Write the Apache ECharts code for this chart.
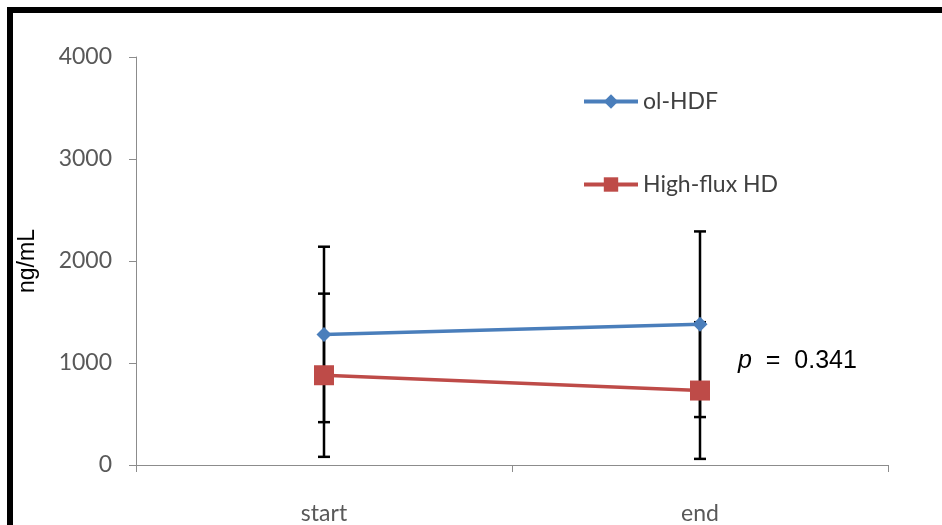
<!DOCTYPE html>
<html>
<head>
<meta charset="utf-8">
<script src="https://cdn.jsdelivr.net/npm/echarts@6/dist/echarts.min.js"></script>
<style>
  html, body { margin: 0; padding: 0; background: #fff; }
  #chart { width: 942px; height: 525px; }
</style>
</head>
<body>
<div id="chart"></div>
<script>
var categories = ["start", "end"];
var hdfMean = [1280, 1380];
var hdfSd = [860, 910];
var hfMean = [880, 730];
var hfSd = [800, 670];

var blue = "#4a7ebb";
var red = "#be4b48";

function errorData(mean, sd) {
    var out = [];
    for (var i = 0; i < mean.length; i++) {
        out.push([i, mean[i] - sd[i], mean[i] + sd[i]]);
    }
    return out;
}

function renderError(params, api) {
    var lo = api.coord([api.value(0), api.value(1)]);
    var hi = api.coord([api.value(0), api.value(2)]);
    var half = 6;
    var style = { stroke: "#000", lineWidth: 2.5 };
    return {
        type: "group",
        children: [
            { type: "line", shape: { x1: hi[0], y1: hi[1], x2: lo[0], y2: lo[1] }, style: style },
            { type: "line", shape: { x1: hi[0] - half, y1: hi[1], x2: hi[0] + half, y2: hi[1] }, style: style },
            { type: "line", shape: { x1: lo[0] - half, y1: lo[1], x2: lo[0] + half, y2: lo[1] }, style: style }
        ]
    };
}

var chart = echarts.init(document.getElementById("chart"));

var option = {
    backgroundColor: "#fff",
    animation: false,
    grid: { left: 136, right: 54, top: 57, bottom: 58 },
    legend: {
        orient: "vertical",
        left: 582,
        top: 90,
        padding: 0,
        itemWidth: 54,
        itemHeight: 18,
        itemGap: 60,
        lineStyle: { width: 4 },
        textStyle: { fontFamily: "Lato", fontSize: 23, color: "#404040" },
        data: ["ol-HDF", "High-flux HD"]
    },
    xAxis: {
        type: "category",
        data: categories,
        boundaryGap: true,
        axisLine: { lineStyle: { color: "#8c8c8c", width: 1 } },
        axisTick: { show: true, length: 7, lineStyle: { color: "#8c8c8c" } },
        axisLabel: { fontFamily: "Lato", fontSize: 23, color: "#595959", margin: 37 }
    },
    yAxis: {
        type: "value",
        min: 0,
        max: 4000,
        interval: 1000,
        name: "ng/mL",
        nameLocation: "middle",
        nameGap: 97,
        nameTextStyle: { fontFamily: "Liberation Sans", fontSize: 23, color: "#000" },
        splitLine: { show: false },
        axisLine: { show: true, lineStyle: { color: "#8c8c8c", width: 1 } },
        axisTick: { show: true, length: 7, lineStyle: { color: "#8c8c8c" } },
        axisLabel: {
            fontFamily: "Lato", fontSize: 23, color: "#595959", margin: 24,
            formatter: function (v) { return String(v); }
        }
    },
    graphic: [
        {
            type: "rect",
            shape: { x: 10, y: 10, width: 1000, height: 1000 },
            style: { fill: "none", stroke: "#000", lineWidth: 6 },
            z: 100
        },
        {
            type: "text",
            left: 738,
            top: 349,
            style: {
                text: "{i|p}  =  0.341",
                fontFamily: "Liberation Sans",
                fontSize: 25,
                fill: "#000",
                rich: { i: { fontStyle: "italic", fontFamily: "Liberation Sans", fontSize: 25 } }
            }
        }
    ],
    series: [
        {
            type: "custom",
            renderItem: renderError,
            data: errorData(hdfMean, hdfSd),
            z: 1,
            silent: true
        },
        {
            type: "custom",
            renderItem: renderError,
            data: errorData(hfMean, hfSd),
            z: 1,
            silent: true
        },
        {
            name: "ol-HDF",
            type: "line",
            data: hdfMean,
            symbol: "diamond",
            symbolSize: 15,
            z: 3,
            lineStyle: { color: blue, width: 3.5 },
            itemStyle: { color: blue }
        },
        {
            name: "High-flux HD",
            type: "line",
            data: hfMean,
            symbol: "rect",
            symbolSize: 20,
            z: 3,
            lineStyle: { color: red, width: 3.5 },
            itemStyle: { color: red }
        }
    ]
};

chart.setOption(option);
</script>
</body>
</html>
